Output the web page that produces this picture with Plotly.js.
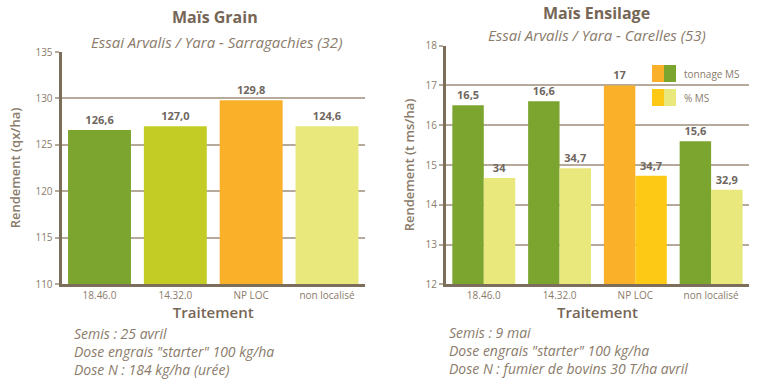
<!DOCTYPE html>
<html><head><meta charset="utf-8">
<script src="https://cdn.plot.ly/plotly-3.0.1.min.js"></script>
<style>html,body{margin:0;padding:0;background:#fff}#chart{width:769px;height:384px}</style>
</head><body><div id="chart"></div>
<script>
// ---- Data ----
const categories = ["18.46.0", "14.32.0", "NP LOC", "non localisé"];
// Maïs Grain (bar heights as drawn, labels as printed)
const grainYield = [126.6, 127.0, 129.8, 127.0];
const grainLabels = ["126,6", "127,0", "129,8", "124,6"];
// Maïs Ensilage
const tonnageMS = [16.5, 16.6, 17.0, 15.6];
const tonnageLabels = ["16,5", "16,6", "17", "15,6"];
const pctMS = [34, 34.7, 34.7, 32.9];
const pctMSHeights = [14.67, 14.92, 14.73, 14.38];
const pctMSLabels = ["34", "34,7", "34,7", "32,9"];
const legendNames = ["tonnage MS", "% MS"];
const grainTicks = [110, 115, 120, 125, 130, 135];
const ensTicks = [12, 13, 14, 15, 16, 17, 18];
const grainNotes = ["Semis : 25 avril", "Dose engrais \"starter\" 100 kg/ha", "Dose N : 184 kg/ha (urée)"];
const ensNotes = ["Semis : 9 mai", "Dose engrais \"starter\" 100 kg/ha", "Dose N : fumier de bovins 30 T/ha avril"];

// ---- Styles ----
const W = 769, H = 384;
const px = v => v / W, py = v => 1 - v / H;
const green = "#7ca52f", lime = "#c3cc24", orange = "#fbb02a", pale = "#e8e87c", yellow = "#fec914";
const txt = "#8a7b6b", dark = "#766656", axisCol = "#7d6e5c", gridCol = "#b5aa9c";
const F = "Open Sans, sans-serif";

const grainColors = [green, lime, orange, pale];
const tonColors = [green, green, orange, green];
const pctColors = [pale, pale, yellow, pale];

const labelFont = {family: F, size: 11, color: "#6f675f", weight: 700};

const traces = [
  {type: "bar", x: categories, y: grainYield, text: grainLabels, textposition: "outside",
   textfont: labelFont, marker: {color: grainColors}, xaxis: "x", yaxis: "y",
   cliponaxis: false, hoverinfo: "x+text", showlegend: false},
  {type: "bar", name: legendNames[0], x: categories, y: tonnageMS, text: tonnageLabels, textposition: "outside",
   textfont: labelFont, marker: {color: tonColors}, xaxis: "x2", yaxis: "y2",
   cliponaxis: false, showlegend: false},
  {type: "bar", name: legendNames[1], x: categories, y: pctMSHeights, text: pctMSLabels, textposition: "outside",
   textfont: labelFont, marker: {color: pctColors}, xaxis: "x2", yaxis: "y2",
   customdata: pctMS, cliponaxis: false, showlegend: false}
];

function yAx(range, ticks, title, domain, standoff) {
  return {domain: domain, range: range, tickvals: ticks, ticktext: ticks.map(String),
    showgrid: true, gridcolor: gridCol, gridwidth: 2, zeroline: false,
    showline: true, linecolor: axisCol, linewidth: 3, ticks: "outside", ticklen: 4,
    tickcolor: gridCol, tickwidth: 2, tickfont: {family: F, size: 10, color: txt},
    title: {text: title, font: {family: F, size: 13, color: txt, weight: 600}, standoff: standoff},
    fixedrange: true};
}
function xAx(domain, anchor) {
  return {domain: domain, anchor: anchor, showline: true, linecolor: axisCol, linewidth: 3,
    ticks: "", tickfont: {family: F, size: 10, color: txt},
    title: {text: "Traitement", font: {family: F, size: 15, color: dark, weight: 600}, standoff: 4},
    fixedrange: true};
}

const ann = (x, y, text, size, opts = {}) => Object.assign({xref: "paper", yref: "paper", x: px(x), y: py(y),
  text: text, showarrow: false, font: Object.assign({family: F, size: size, color: txt}, opts.font || {}),
  xanchor: opts.xanchor || "center", yanchor: "middle", align: opts.xanchor || "center"}, opts.extra || {});

const notes = arr => arr.map(s => "<i>" + s + "</i>").join("<br>");

const annotations = [
  ann(215, 17, "<b>Maïs Grain</b>", 16, {font: {color: dark}}),
  ann(216, 42, "<i>Essai Arvalis / Yara - Sarragachies (32)</i>", 15),
  ann(596, 13, "<b>Maïs Ensilage</b>", 16, {font: {color: dark}}),
  ann(597, 35, "<i>Essai Arvalis / Yara - Carelles (53)</i>", 15),
  ann(72, 351, notes(grainNotes), 14, {xanchor: "left"}),
  ann(447, 350, notes(ensNotes), 14, {xanchor: "left"}),
  ann(682, 73.5, legendNames[0], 10, {xanchor: "left"}),
  ann(682, 97.5, legendNames[1], 10, {xanchor: "left"})
];

const rect = (x0, x1, y0, y1, c) => ({type: "rect", xref: "paper", yref: "paper",
  x0: px(x0), x1: px(x1), y0: py(y1), y1: py(y0), fillcolor: c, line: {width: 0}});
const shapes = [
  rect(652, 664, 65, 82, orange), rect(664, 676, 65, 82, green),
  rect(652, 664, 89, 106, yellow), rect(664, 676, 89, 106, pale)
];

const layout = {
  width: W, height: H, margin: {l: 0, r: 0, t: 0, b: 0},
  paper_bgcolor: "#fff", plot_bgcolor: "#fff",
  barmode: "group", bargap: 0.17, bargroupgap: 0,
  showlegend: false,
  xaxis: xAx([px(61.6), px(364.9)], "y"),
  yaxis: yAx([110, 135], grainTicks, "Rendement (qx/ha)", [py(284), py(52)], 12),
  xaxis2: xAx([px(445.9), px(749)], "y2"),
  yaxis2: Object.assign(yAx([12, 18], ensTicks, "Rendement (t ms/ha)", [py(284.3), py(45.7)], 8), {anchor: "x2"}),
  annotations: annotations, shapes: shapes
};
layout.yaxis.anchor = "x";

Plotly.newPlot("chart", traces, layout, {displayModeBar: false, staticPlot: true});
</script></body></html>
